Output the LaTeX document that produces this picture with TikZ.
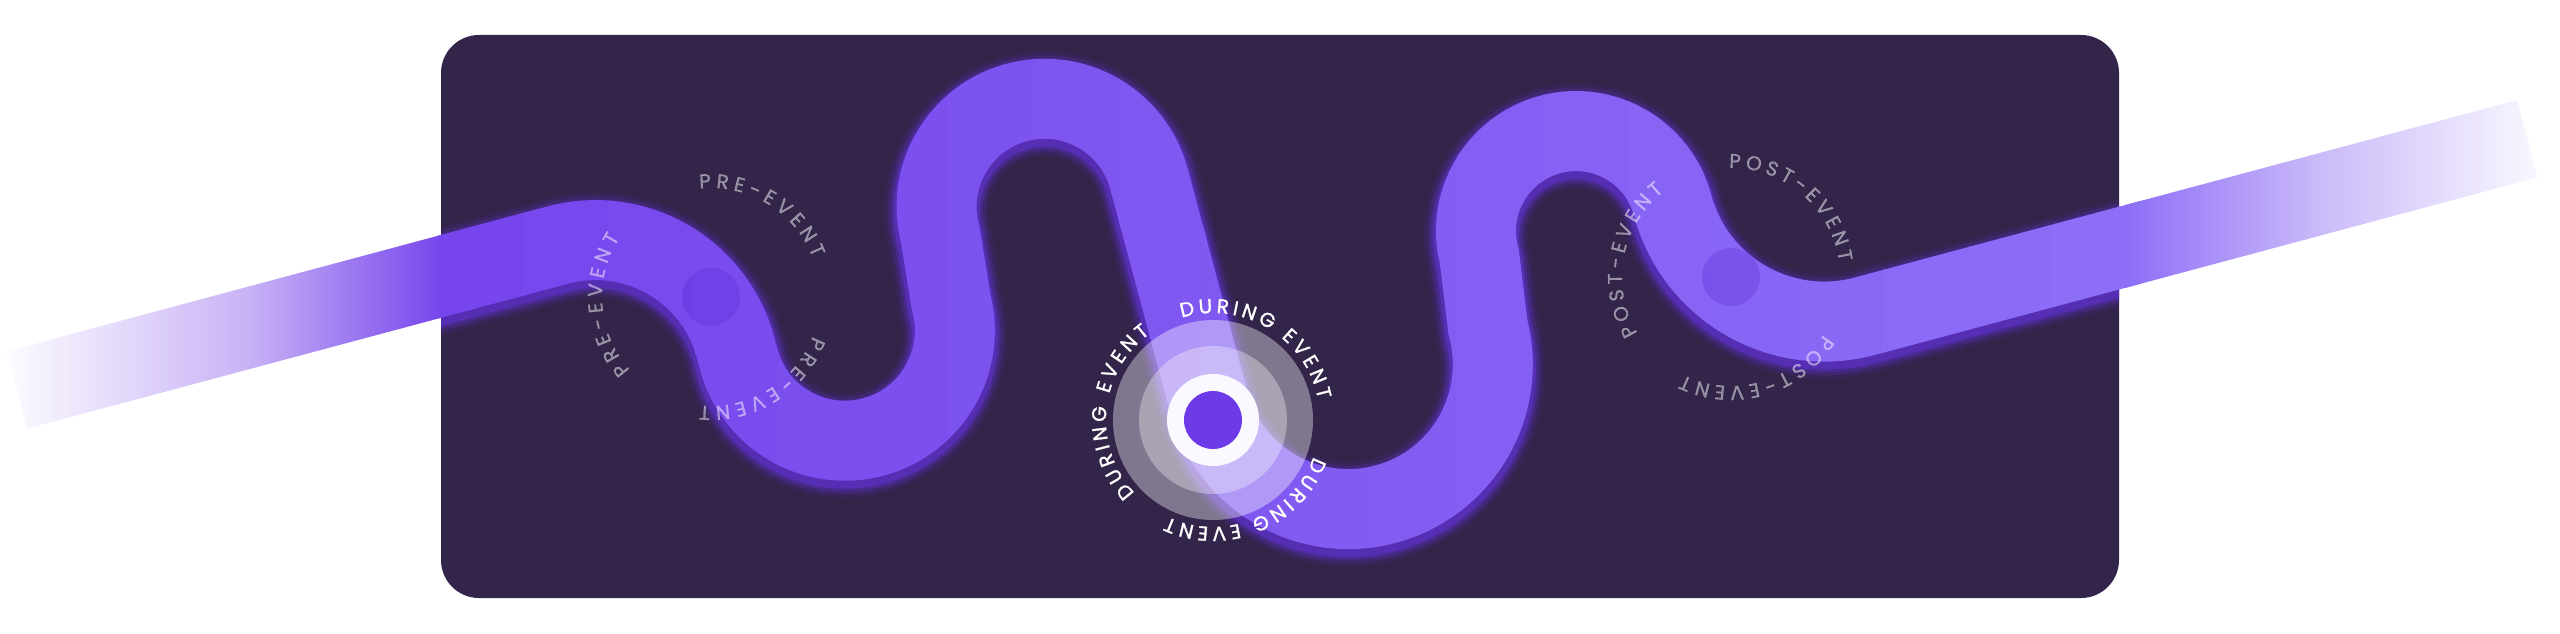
\documentclass[tikz,border=0pt]{standalone}
\usepackage{fontspec}
\newfontfamily\pop[FakeBold=0.7]{Poppins}
\newfontfamily\popb[FakeBold=1.3]{Poppins}
\usetikzlibrary{decorations.text}
\definecolor{bgc}{RGB}{51,36,74}
\definecolor{roadL}{RGB}{118,70,236}
\definecolor{roadR}{RGB}{141,110,247}
\definecolor{fadeA}{RGB}{200,178,246}
\definecolor{fadeB}{RGB}{203,186,249}
\definecolor{glowc}{RGB}{100,52,226}
\definecolor{dotc}{RGB}{90,40,215}
\definecolor{corec}{RGB}{108,58,233}
\tikzset{
  roadp/.style={insert path={(0,0) -- (560,0) arc[start angle=90,end angle=0,radius=145]
     -- (705,-157) arc[start angle=180,end angle=360,radius=110]
     -- (932,-89) arc[start angle=180,end angle=0,radius=108]
     -- (1148,-320) arc[start angle=180,end angle=360,radius=144.5]
     -- (1447,-250) arc[start angle=180,end angle=0,radius=100]
     arc[start angle=180,end angle=270,radius=157] -- (2490,-407)}},
  localframe/.style={shift={(17,-390)},rotate=15},
  roadline/.style={line width=80pt},
  faint/.style={opacity=0.48},
  smalltxt/.style={decorate, decoration={text along path, text align={fit to path}, text color=white,
     text={|\pop\fontsize{20}{22}\selectfont|#1}}},
  bigtxt/.style={decorate, decoration={text along path, text align={fit to path}, text color=white,
     text={|\popb\fontsize{20}{22}\selectfont|#1}}},
}
\begin{document}
\begin{tikzpicture}[x=1pt,y=1pt]
\useasboundingbox (0,0) rectangle (2560,-634);
% panel
\fill[bgc, rounded corners=38pt] (441,-35) rectangle (2119,-598);
% glow under the road
\begin{scope}
  \clip[rounded corners=38pt] (441,-35) rectangle (2119,-598);
  \begin{scope}[yshift=-5pt]
    \draw[localframe, glowc, opacity=0.10, line width=104pt, roadp];
    \draw[localframe, glowc, opacity=0.18, line width=97pt, roadp];
    \draw[localframe, glowc, opacity=0.28, line width=91pt, roadp];
    \draw[localframe, glowc, opacity=0.45, line width=86pt, roadp];
  \end{scope}
\end{scope}
% road, colour changing from left to right
\foreach \i in {0,...,19}{
  \pgfmathsetmacro\xa{438+85*\i}
  \pgfmathsetmacro\xb{\xa+88}
  \pgfmathtruncatemacro\p{round(\i*100/19)}
  \begin{scope}
    \clip (\xa,5) rectangle (\xb,-640);
    \draw[localframe, roadline, draw=roadR!\p!roadL, roadp];
  \end{scope}
}
% fading ends
\begin{scope}
  \clip[localframe] (0,40) -- (620,40) -- (620,-40) -- (0,-40) -- cycle;
  \shade[left color=white, right color=fadeA] (-5,0) rectangle (250,-634);
  \shade[left color=fadeA, right color=roadL] (249,0) rectangle (442,-634);
\end{scope}
\begin{scope}
  \clip[localframe] (1800,-367) -- (2490,-367) -- (2490,-447) -- (1800,-447) -- cycle;
  \shade[left color=roadR, right color=fadeB] (2125,0) rectangle (2320,-634);
  \shade[left color=fadeB, right color=white] (2319,0) rectangle (2565,-634);
\end{scope}
% stage points
\coordinate (pre) at (711,-297);
\coordinate (post) at (1731,-277);
\coordinate (ring) at (1213,-420);
\fill[dotc, opacity=0.3] (pre) circle[radius=29];
\fill[dotc, opacity=0.3] (post) circle[radius=29];
\fill[white, opacity=0.38] (ring) circle[radius=100];
\fill[white, opacity=0.32] (ring) circle[radius=74];
\fill[white!96!roadR] (ring) circle[radius=46];
\fill[corec] (ring) circle[radius=29];
% labels
\begin{scope}[faint]
  \path[smalltxt={PRE-EVENT}] ([shift={(96:109)}]pre) arc[start angle=96,end angle=21,radius=109];
  \path[smalltxt={PRE-EVENT}] ([shift={(222:109)}]pre) arc[start angle=222,end angle=147,radius=109];
  \path[smalltxt={PRE-EVENT}] ([shift={(339:109)}]pre) arc[start angle=339,end angle=264,radius=109];
  \path[smalltxt={POST-EVENT}] ([shift={(91:109)}]post) arc[start angle=91,end angle=8,radius=109];
  \path[smalltxt={POST-EVENT}] ([shift={(211:109)}]post) arc[start angle=211,end angle=128,radius=109];
  \path[smalltxt={POST-EVENT}] ([shift={(328:109)}]post) arc[start angle=328,end angle=244,radius=109];
\end{scope}
\path[bigtxt={DURING EVENT}] ([shift={(107:107)}]ring) arc[start angle=107,end angle=11,radius=107];
\path[bigtxt={DURING EVENT}] ([shift={(223:107)}]ring) arc[start angle=223,end angle=126,radius=107];
\path[bigtxt={DURING EVENT}] ([shift={(340:107)}]ring) arc[start angle=340,end angle=245,radius=107];
\end{tikzpicture}
\end{document}
